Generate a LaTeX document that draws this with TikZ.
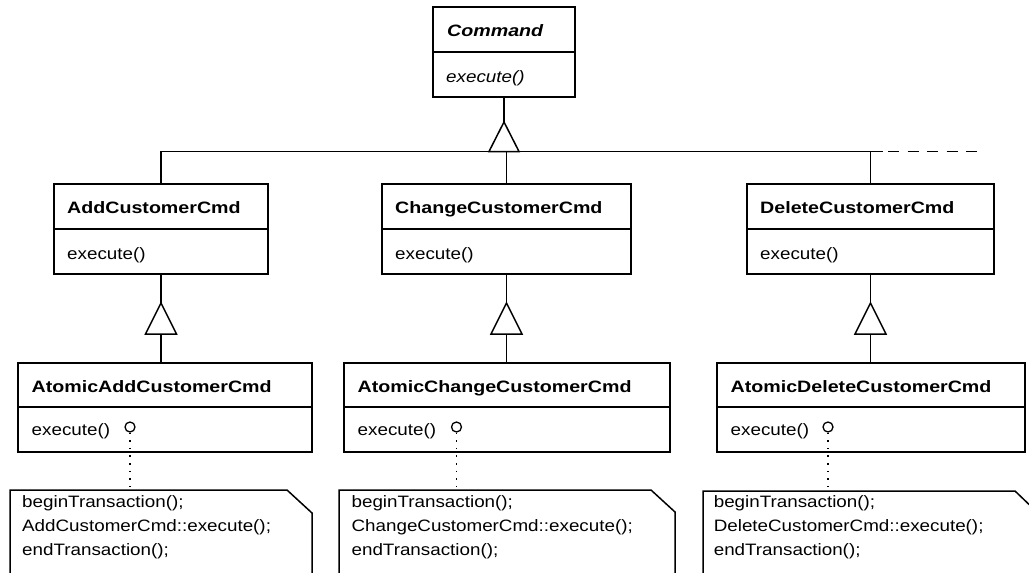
\documentclass[tikz,border=0pt]{standalone}
\usepackage{fontspec}
\setmainfont{Liberation Sans}[FakeStretch=1.14]
\newfontfamily\titlefam{Liberation Sans}[FakeStretch=1.19]
\usetikzlibrary{calc}
\newcommand\diagfont{\fontsize{16.5}{24}\selectfont}
\begin{document}
\begin{tikzpicture}[x=1pt,y=-1pt,
  line/.style={line width=1.5pt, draw=black},
  part/.style={draw=black, line width=1.5pt, rectangle, anchor=north west, inner sep=0pt, outer sep=0pt},
  ttl/.style={anchor=base west, inner sep=0pt, font=\diagfont\titlefam\bfseries},
  op/.style={anchor=base west, inner sep=0pt, font=\diagfont},
  notetxt/.style={anchor=base west, inner sep=0pt, font=\diagfont},
  notebox/.style={anchor=north west, inner sep=0pt, outer sep=0pt, minimum height=120pt},
  lollipop/.style={circle, draw=black, line width=1.3pt, minimum size=10pt, inner sep=0pt},
  dotline/.style={line width=1.5pt, dash pattern=on 1.6pt off 6pt},
  more/.style={line width=1.5pt, dash pattern=on 11pt off 8.5pt}
]
\useasboundingbox (0,0) rectangle (1029,573);
\clip (0,0) rectangle (1029,573);

% ---------- Command ----------
\node[part, minimum width=142pt, minimum height=45pt] (cmdT) at (433,7) {};
\node[part, minimum width=142pt, minimum height=45pt] (cmdB) at (cmdT.south west) {};
\node[ttl, font=\diagfont\titlefam\bfseries\itshape] (cmdN) at ($(cmdT.north west)+(14,29)$) {Command};
\node[op, font=\diagfont\itshape] (cmdO) at ($(cmdB.north west)+(13,30)$) {execute()};

% ---------- second level ----------
\node[part, minimum width=214pt, minimum height=45pt] (addT) at (54,184) {};
\node[part, minimum width=214pt, minimum height=45pt] (addB) at (addT.south west) {};
\node[ttl] (addN) at ($(addT.north west)+(13,29)$) {AddCustomerCmd};
\node[op] (addO) at ($(addB.north west)+(13,30)$) {execute()};

\node[part, minimum width=249pt, minimum height=45pt] (chgT) at (382,184) {};
\node[part, minimum width=249pt, minimum height=45pt] (chgB) at (chgT.south west) {};
\node[ttl] (chgN) at ($(chgT.north west)+(13,29)$) {ChangeCustomerCmd};
\node[op] (chgO) at ($(chgB.north west)+(13,30)$) {execute()};

\node[part, minimum width=247pt, minimum height=45pt] (delT) at (747,184) {};
\node[part, minimum width=247pt, minimum height=45pt] (delB) at (delT.south west) {};
\node[ttl] (delN) at ($(delT.north west)+(13,29)$) {DeleteCustomerCmd};
\node[op] (delO) at ($(delB.north west)+(13,30)$) {execute()};

% ---------- atomic level ----------
\node[part, minimum width=294pt, minimum height=44pt] (aaddT) at (18,363) {};
\node[part, minimum width=294pt, minimum height=45pt] (aaddB) at (aaddT.south west) {};
\node[ttl] (aaddN) at ($(aaddT.north west)+(13.5,29)$) {AtomicAddCustomerCmd};
\node[op] (aaddO) at ($(aaddB.north west)+(13.5,28.5)$) {execute()};

\node[part, minimum width=326pt, minimum height=44pt] (achgT) at (344,363) {};
\node[part, minimum width=326pt, minimum height=45pt] (achgB) at (achgT.south west) {};
\node[ttl] (achgN) at ($(achgT.north west)+(13.5,29)$) {AtomicChangeCustomerCmd};
\node[op] (achgO) at ($(achgB.north west)+(13.5,28.5)$) {execute()};

\node[part, minimum width=308pt, minimum height=44pt] (adelT) at (717,363) {};
\node[part, minimum width=308pt, minimum height=45pt] (adelB) at (adelT.south west) {};
\node[ttl] (adelN) at ($(adelT.north west)+(13.5,29)$) {AtomicDeleteCustomerCmd};
\node[op] (adelO) at ($(adelB.north west)+(13.5,28.5)$) {execute()};

% ---------- generalization to Command ----------
\draw[line] (cmdB.south) -- ++(0,25) coordinate (g0);
\draw[line] (g0) -- ++(-15,29.5) -- ++(30,0) -- cycle;
\coordinate (bus) at ($(g0)+(0,29.5)$);
\draw[line] (addT.north) |- (bus);
\draw[line] (delT.north) |- (bus);
\draw[line] (chgT.north) -- (chgT.north |- bus);
\draw[line] (delT.north |- bus) -- ++(12.5,0) coordinate (busend);
\coordinate (moreend) at (982,151.5);
\draw[more] ($(busend)+(5,0)$) -- (moreend);

% ---------- generalization to second level ----------
\draw[line] (addB.south) -- ++(0,29) coordinate (g1);
\draw[line] (g1) -- ++(-15.5,31) -- ++(31,0) -- cycle;
\draw[line] ($(g1)+(0,31)$) -- (g1 |- aaddT.north);

\draw[line] (chgB.south) -- ++(0,29) coordinate (g2);
\draw[line] (g2) -- ++(-15.5,31) -- ++(31,0) -- cycle;
\draw[line] ($(g2)+(0,31)$) -- (g2 |- achgT.north);

\draw[line] (delB.south) -- ++(0,29) coordinate (g3);
\draw[line] (g3) -- ++(-15.5,31) -- ++(31,0) -- cycle;
\draw[line] ($(g3)+(0,31)$) -- (g3 |- adelT.north);

% ---------- lollipops ----------
\node[lollipop] (cA) at (130,427) {};
\node[lollipop] (cC) at (456.5,427) {};
\node[lollipop] (cD) at (828,427) {};

% ---------- notes ----------
\node[notebox, minimum width=302pt] (noteA) at (10,490) {};
\draw[line] (noteA.south west) -- (noteA.north west) -- ($(noteA.north east)+(-25,0)$) -- ($(noteA.north east)+(0,23)$) -- (noteA.south east);
\node[notetxt] (nA1) at ($(noteA.north west)+(12,17)$) {beginTransaction();};
\node[notetxt] (nA2) at ($(noteA.north west)+(12,41)$) {AddCustomerCmd::execute();};
\node[notetxt] (nA3) at ($(noteA.north west)+(12,65)$) {endTransaction();};

\node[notebox, minimum width=336pt] (noteC) at (339,490) {};
\draw[line] (noteC.south west) -- (noteC.north west) -- ($(noteC.north east)+(-24,0)$) -- ($(noteC.north east)+(0,22)$) -- (noteC.south east);
\node[notetxt] (nC1) at ($(noteC.north west)+(12.4,17)$) {beginTransaction();};
\node[notetxt] (nC2) at ($(noteC.north west)+(12.4,41)$) {ChangeCustomerCmd::execute();};
\node[notetxt] (nC3) at ($(noteC.north west)+(12.4,65)$) {endTransaction();};

\node[notebox, minimum width=336pt] (noteD) at (703,491) {};
\draw[line] (noteD.south west) -- (noteD.north west) -- ($(noteD.north east)+(-24,0)$) -- ($(noteD.north east)+(0,23)$) -- (noteD.south east);
\node[notetxt] (nD1) at ($(noteD.north west)+(10.6,16)$) {beginTransaction();};
\node[notetxt] (nD2) at ($(noteD.north west)+(10.6,40)$) {DeleteCustomerCmd::execute();};
\node[notetxt] (nD3) at ($(noteD.north west)+(10.6,64)$) {endTransaction();};

% ---------- note links ----------
\draw[dotline] (cA.south) -- (cA |- noteA.north);
\draw[dotline] (cC.south) -- (cC |- noteC.north);
\draw[dotline] (cD.south) -- (cD |- noteD.north);
\end{tikzpicture}
\end{document}
